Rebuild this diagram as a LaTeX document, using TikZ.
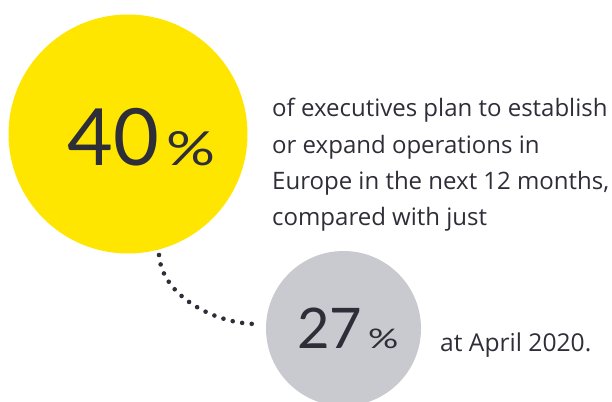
\documentclass[tikz,border=0pt]{standalone}
\usepackage{fontspec}
\setmainfont{Lato}
\newfontfamily\bodyfont{Open Sans}
\definecolor{eyyellow}{HTML}{FFE600}
\definecolor{eygray}{HTML}{C9C9D0}
\definecolor{eydark}{HTML}{2E2E38}
\begin{document}
\begin{tikzpicture}[x=1pt,y=1pt,
  bubble/.style={circle,inner sep=0pt,draw=none},
  txt/.style={inner sep=0pt,anchor=base west,text=eydark},
  body/.style={txt,font=\bodyfont\fontsize{24}{29}\selectfont},
  dots/.style={draw=eydark,line width=4.6pt,line cap=round,dash pattern=on 0pt off 9.6pt}]
\useasboundingbox (0,0) rectangle (612,-401);
\node[bubble,fill=eyyellow,minimum size=239pt] (big) at (128,-134) {};
\node[bubble,fill=eygray,minimum size=155pt] (small) at (343.5,-328.5) {};
\coordinate (s) at (159,-255);
\coordinate (e) at (257,-324);
\draw[dots] (s) .. controls (162,-296) and (215,-324) .. (e);
\node[txt,font=\fontsize{79}{90}\selectfont] (n40) at (67,-165.5) {40};
\node[txt,font=\fontsize{47}{60}\selectfont] (p40) at (166,-165.5) {\scalebox{1.3}[1]{\%}};
\node[txt,font=\fontsize{56}{65}\selectfont] (n27) at (297,-348) {27};
\node[txt,font=\fontsize{27}{36}\selectfont] (p27) at (368,-348) {\scalebox{1.4}[1]{\%}};
\node[body] (l1) at (272,-116.5) {of executives plan to establish};
\node[body] (l2) at (272,-153) {or expand operations in};
\node[body] (l3) at (272,-189) {Europe in the next 12 months,};
\node[body] (l4) at (272,-225) {compared with just};
\node[body,font=\bodyfont\fontsize{24.6}{29}\selectfont] (l5) at (440,-351.5) {at April 2020.};
\end{tikzpicture}
\end{document}
